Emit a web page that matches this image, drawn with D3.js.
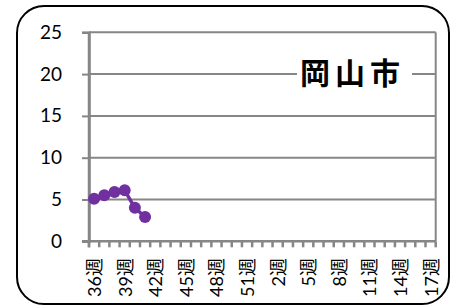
<!DOCTYPE html>
<html><head><meta charset="utf-8">
<script src="https://cdn.jsdelivr.net/npm/d3@7"></script>
<style>
html,body{margin:0;padding:0;background:#fff;}
svg{display:block;}
text{font-family:"Lato","Noto Sans CJK JP",sans-serif;}
</style></head>
<body>
<svg id="c" width="457" height="307"></svg>
<script>
const weeks = [36,37,38,39,40,41,42,43,44,45,46,47,48,49,50,51,52,1,2,3,4,5,6,7,8,9,10,11,12,13,14,15,16,17];
const categories = weeks.map(w => w + "週");
const values = [5.1, 5.5, 5.9, 6.1, 4.0, 2.9];
const yTicks = [0, 5, 10, 15, 20, 25];
const labelWeeks = [36,39,42,45,48,51,2,5,8,11,14,17];
const title = "岡山市";

const svg = d3.select("#c");
const L = 89, R = 435.7, T = 32.3, B = 241.3;

svg.append("rect").attr("x",17).attr("y",6).attr("width",432).attr("height",298)
  .attr("rx",27).attr("ry",27).attr("fill","#fff").attr("stroke","#000").attr("stroke-width",2);

const x = d3.scaleBand().domain(categories).range([L, R]).paddingInner(0).paddingOuter(0);
const y = d3.scaleLinear().domain([0, 25]).range([B, T]);

const grey = "#868686";
svg.append("g").selectAll("line").data(yTicks.filter(d => d > 0)).join("line")
  .attr("x1", L).attr("x2", R).attr("y1", d => y(d)).attr("y2", d => y(d))
  .attr("stroke", grey).attr("stroke-width", 2);
svg.append("line").attr("x1", R).attr("x2", R).attr("y1", T).attr("y2", B)
  .attr("stroke", grey).attr("stroke-width", 2);

const yAxis = d3.axisLeft(y).tickValues(yTicks).tickSize(7).tickPadding(20);
const gy = svg.append("g").attr("transform", `translate(${L},0)`).call(yAxis);
gy.select(".domain").attr("stroke", grey).attr("stroke-width", 2.5);
gy.selectAll(".tick line").attr("stroke", grey).attr("stroke-width", 2);
gy.selectAll("text").attr("font-size", 19).attr("fill", "#000").attr("font-family","Lato");

const bounds = categories.map(c => x(c)).concat([R]);
svg.append("g").selectAll("line").data(bounds).join("line")
  .attr("x1", d => d).attr("x2", d => d).attr("y1", B).attr("y2", B + 6)
  .attr("stroke", grey).attr("stroke-width", 2.5);
svg.append("line").attr("x1", L - 7).attr("x2", R).attr("y1", B).attr("y2", B)
  .attr("stroke", grey).attr("stroke-width", 2.5);
svg.append("line").attr("x1", L).attr("x2", L).attr("y1", T).attr("y2", B + 6)
  .attr("stroke", grey).attr("stroke-width", 2.5);

svg.append("g").selectAll("text").data(labelWeeks.map(w => w + "週")).join("text")
  .attr("transform", d => `translate(${x(d) + x.bandwidth()/2},258) rotate(-90)`)
  .attr("text-anchor", "end").attr("dominant-baseline", "central")
  .attr("font-size", 18).attr("fill", "#000")
  .text(d => d);

const tg = svg.append("g");
const tt = tg.append("text").attr("x", 300).attr("y", 72).attr("text-anchor", "start")
  .attr("dominant-baseline", "central").attr("font-size", 30).attr("font-weight", "bold")
  .attr("letter-spacing", 5).attr("font-family", "Noto Sans CJK JP").text(title);
const bb = tt.node().getBBox();
tg.insert("rect", "text").attr("x", 297).attr("y", bb.y).attr("width", 115).attr("height", bb.height).attr("fill", "#fff");

const cx = (d, i) => x(categories[i]) + x.bandwidth()/2;
const line = d3.line().x(cx).y(d => y(d));
svg.append("path").datum(values).attr("d", line).attr("fill", "none")
  .attr("stroke", "#7030A0").attr("stroke-width", 3.5);
svg.append("g").selectAll("circle").data(values).join("circle")
  .attr("cx", cx).attr("cy", d => y(d)).attr("r", 6).attr("fill", "#7030A0");
</script>
</body></html>
